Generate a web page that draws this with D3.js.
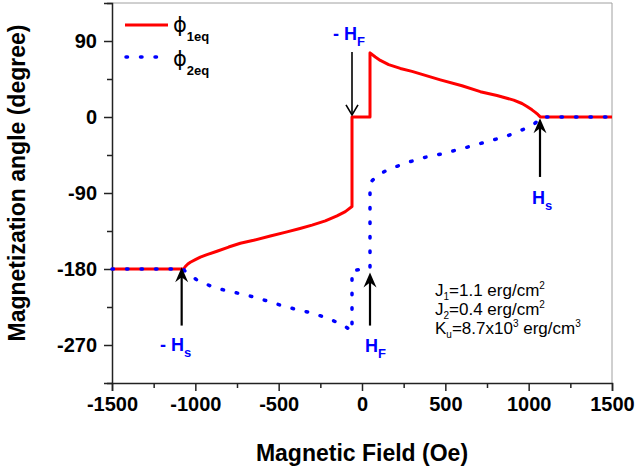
<!DOCTYPE html>
<html>
<head>
<meta charset="utf-8">
<script src="https://d3js.org/d3.v7.min.js"></script>
<style>
    body { margin: 0; background: #fff; }
    svg { display: block; font-family: "Liberation Sans", Arial, sans-serif; }
</style>
</head>
<body>
<div id="chart"></div>
<script>
// phi_1eq (solid red), field in Oe, angle in degree
const field1 = [-1500, -1070, -1060, -1045, -1030, -1000, -970, -930, -870, -800, -730, -650, -550, -450, -372, -300, -220, -150, -100, -60,
    -60, 48, 48, 80, 110, 160, 230, 300, 350, 470, 600, 710, 810, 910, 960, 990, 1020, 1040, 1055, 1065, 1070, 1500];
const phi1 = [-180, -180, -177, -174, -172, -169, -166, -163, -159, -154, -149.5, -146, -141, -136, -132, -128, -123, -117, -112, -106,
    0, 0, 76, 71, 67, 62, 57.5, 54, 51, 44, 37, 30, 25.5, 20, 16, 12.5, 8.5, 5.5, 3, 1, 0, 0];

// phi_2eq (dotted blue)
const field2 = [-1500, -1070, -1065, -1040, -990, -910, -810, -710, -600, -470, -372, -312, -270, -180, -132, -100, -60,
    -60, 48, 48, 62, 96, 140, 180, 270, 372, 470, 600, 708, 790, 870, 958, 1000, 1038, 1055, 1065, 1070, 1500];
const phi2 = [-180, -180, -182, -186, -193, -200, -206, -210, -216, -224, -229, -231.5, -234, -240.5, -245, -248, -254,
    -182, -179, -79, -75, -69, -64, -60.5, -54, -48, -44, -37.5, -31.5, -27, -22.5, -15.5, -12, -7.5, -4, -2, 0, 0];

// axis ticks
const xTicks = [-1500, -1000, -500, 0, 500, 1000, 1500];
const xMinorTicks = [-1250, -750, -250, 250, 750, 1250];
const yTicks = [90, 0, -90, -180, -270];
const yMinorTicks = [135, 45, -45, -135, -225, -315];

const width = 637, height = 467;
const margin = {top: 3, right: 25, bottom: 84, left: 112};

const x = d3.scaleLinear().domain([-1500, 1500]).range([margin.left, width - margin.right]);
const y = d3.scaleLinear().domain([-315, 135]).range([height - margin.bottom, margin.top]);

const svg = d3.select('#chart')
    .append('svg')
    .attr('width', width)
    .attr('height', height);

// frame: grey top and right
svg.append('line')
    .attr('x1', x(-1500)).attr('x2', x(1500))
    .attr('y1', y(135)).attr('y2', y(135))
    .attr('stroke', '#a0a0a0').attr('stroke-width', 1);
svg.append('line')
    .attr('x1', x(1500)).attr('x2', x(1500))
    .attr('y1', y(135)).attr('y2', y(-315))
    .attr('stroke', '#a0a0a0').attr('stroke-width', 1);

// axes
const fmt = d => String(d);

svg.append('g')
    .attr('transform', `translate(0,${y(-315)})`)
    .call(d3.axisBottom(x).tickValues(xTicks).tickFormat(fmt).tickSize(8).tickPadding(6));
svg.append('g')
    .attr('transform', `translate(0,${y(-315)})`)
    .call(d3.axisBottom(x).tickValues(xMinorTicks).tickFormat('').tickSize(5))
    .call(g => g.select('.domain').remove());

svg.append('g')
    .attr('transform', `translate(${x(-1500)},0)`)
    .call(d3.axisLeft(y).tickValues(yTicks).tickFormat(fmt).tickSize(8).tickPadding(7));
svg.append('g')
    .attr('transform', `translate(${x(-1500)},0)`)
    .call(d3.axisLeft(y).tickValues(yMinorTicks).tickFormat('').tickSize(5))
    .call(g => g.select('.domain').remove());

svg.selectAll('.domain, .tick line')
    .attr('stroke', '#222')
    .attr('stroke-width', 1.5);

svg.selectAll('.tick text')
    .style('font-size', '20px')
    .style('font-weight', 'bold')
    .attr('fill', '#000');

// axis titles
svg.append('text')
    .attr('x', 362)
    .attr('y', 461)
    .attr('text-anchor', 'middle')
    .style('font-size', '23px')
    .style('font-weight', 'bold')
    .text('Magnetic Field (Oe)');

svg.append('text')
    .attr('transform', 'translate(25,183) rotate(-90)')
    .attr('text-anchor', 'middle')
    .style('font-size', '23px')
    .style('font-weight', 'bold')
    .text('Magnetization angle (degree)');

// curves
const line = d3.line()
    .x(d => x(d[0]))
    .y(d => y(d[1]));

svg.append('path')
    .datum(d3.zip(field1, phi1))
    .attr('d', line)
    .attr('fill', 'none')
    .attr('stroke', '#ff0000')
    .attr('stroke-width', 3)
    .attr('stroke-linejoin', 'round');

svg.append('path')
    .datum(d3.zip(field2, phi2))
    .attr('d', line)
    .attr('fill', 'none')
    .attr('stroke', '#0000ff')
    .attr('stroke-width', 3.5)
    .attr('stroke-linecap', 'round')
    .attr('stroke-dasharray', '1.5,13');

// legend
svg.append('line')
    .attr('x1', 125).attr('x2', 168).attr('y1', 25).attr('y2', 25)
    .attr('stroke', '#ff0000').attr('stroke-width', 3);
svg.append('line')
    .attr('x1', 126).attr('x2', 160).attr('y1', 57).attr('y2', 57)
    .attr('stroke', '#0000ff').attr('stroke-width', 3.5)
    .attr('stroke-linecap', 'round')
    .attr('stroke-dasharray', '1.5,13');

const legendItems = [{sub: '1eq', y: 32}, {sub: '2eq', y: 66}];
legendItems.forEach(item => {
    const t = svg.append('text')
        .attr('x', 173)
        .attr('y', item.y)
        .style('font-size', '21px');
    t.append('tspan')
        .style('font-family', '"DejaVu Sans", sans-serif')
        .text('ϕ');
    t.append('tspan')
        .attr('dy', 8.5)
        .style('font-size', '13px')
        .style('font-weight', 'bold')
        .text(item.sub);
});

// arrows
function arrow(h, fromAngle, toAngle, open) {
    const ax = x(h), y0 = y(fromAngle), y1 = y(toAngle);
    const dir = y1 > y0 ? 1 : -1;
    if (open) {
        svg.append('line')
            .attr('x1', ax).attr('x2', ax).attr('y1', y0).attr('y2', y1)
            .attr('stroke', '#000').attr('stroke-width', 1.6);
        svg.append('path')
            .attr('d', `M${ax - 6},${y1 - dir * 10}L${ax},${y1}L${ax + 6},${y1 - dir * 10}`)
            .attr('fill', 'none')
            .attr('stroke', '#000')
            .attr('stroke-width', 1.6);
    } else {
        svg.append('line')
            .attr('x1', ax).attr('x2', ax).attr('y1', y0).attr('y2', y1 - dir * 8)
            .attr('stroke', '#000').attr('stroke-width', 2.2);
        svg.append('path')
            .attr('d', `M${ax},${y1}L${ax + 6.5},${y1 - dir * 15}L${ax},${y1 - dir * 10}L${ax - 6.5},${y1 - dir * 15}Z`)
            .attr('fill', '#000');
    }
}

arrow(-60, 77, 2.5, true);
arrow(48, -247, -184, false);
arrow(-1082, -247, -178, false);
arrow(1068, -71, -1.5, false);

// field labels
function fieldLabel(px, py, main, sub) {
    const t = svg.append('text')
        .attr('x', px)
        .attr('y', py)
        .attr('fill', '#0000ff')
        .style('font-size', '18px')
        .style('font-weight', 'bold');
    t.append('tspan').text(main);
    t.append('tspan')
        .attr('dy', 5.5)
        .style('font-size', '13px')
        .text(sub);
}

fieldLabel(333, 40, '- H', 'F');
fieldLabel(365, 352, 'H', 'F');
fieldLabel(160, 351, '- H', 's');
fieldLabel(532, 204, 'H', 's');

// parameter text
const params = [
    [['J', ''], ['1', 'sub'], ['=1.1 erg/cm', ''], ['2', 'sup']],
    [['J', ''], ['2', 'sub'], ['=0.4 erg/cm', ''], ['2', 'sup']],
    [['K', ''], ['u', 'sub'], ['=8.7x10', ''], ['3', 'sup'], [' erg/cm', ''], ['3', 'sup']]
];
params.forEach((parts, i) => {
    const t = svg.append('text')
        .attr('x', 435)
        .attr('y', 296 + i * 19)
        .style('font-size', '17px');
    let shift = 0;
    parts.forEach(([s, kind]) => {
        const target = kind === 'sub' ? 3.5 : kind === 'sup' ? -7 : 0;
        t.append('tspan')
            .attr('dy', target - shift)
            .style('font-size', kind ? '10px' : '17px')
            .text(s);
        shift = target;
    });
});
</script>
</body>
</html>
